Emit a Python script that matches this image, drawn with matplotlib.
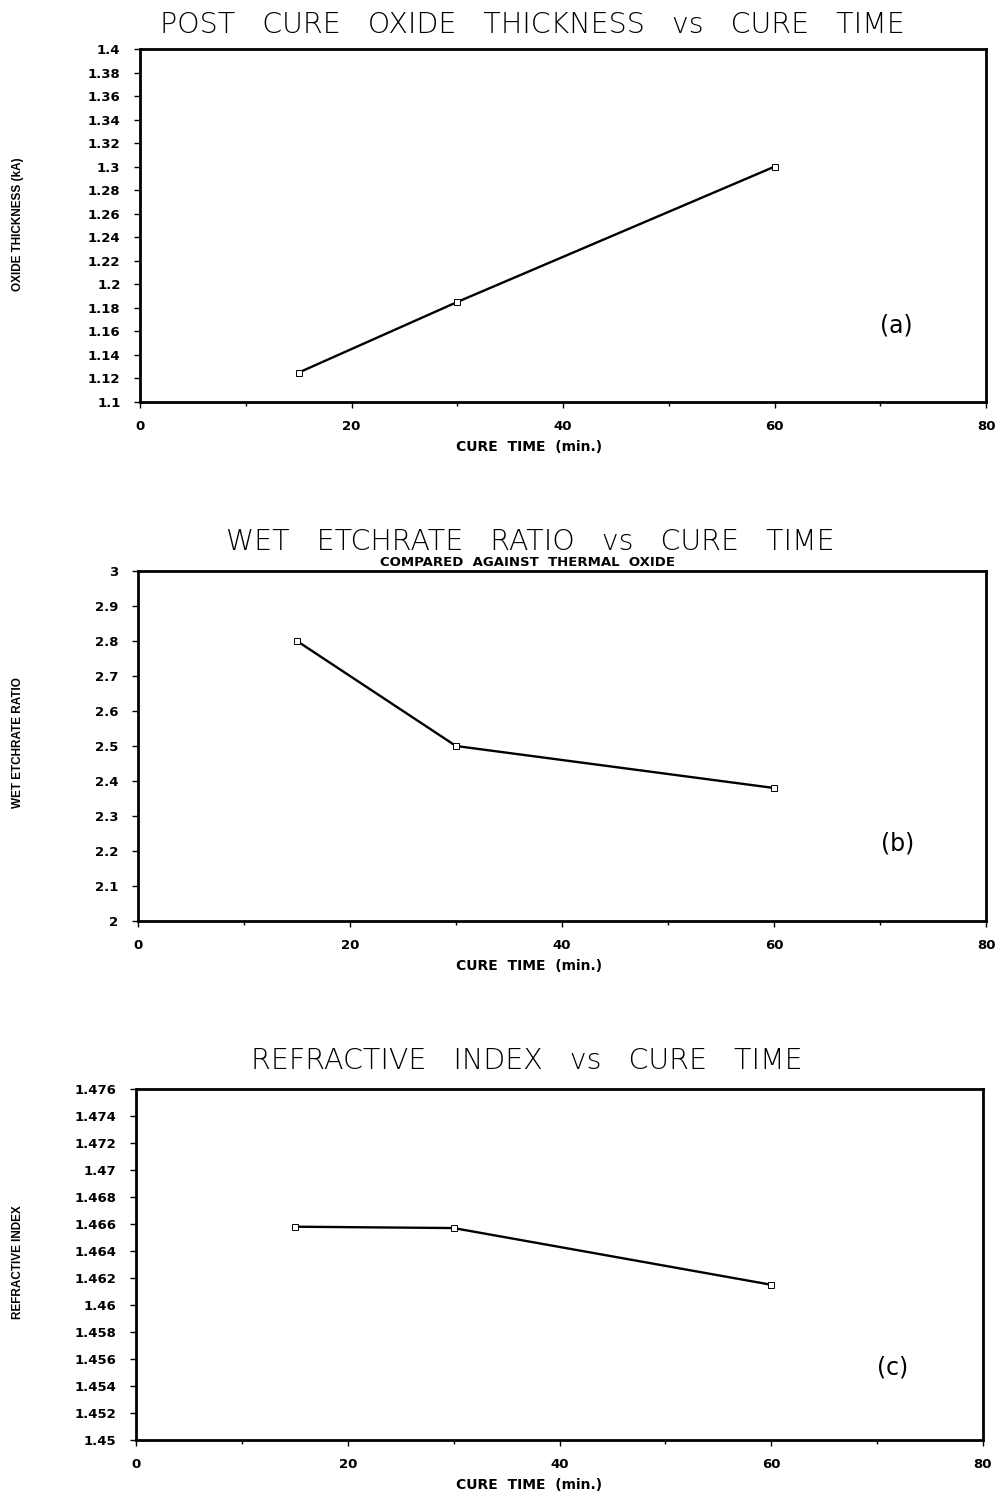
import numpy as np
import matplotlib
matplotlib.use("Agg")
import matplotlib.pyplot as plt

# data
cure_time = [15, 30, 60]
thickness = [1.125, 1.185, 1.300]
etch_ratio = [2.80, 2.50, 2.38]
ref_index = [1.4658, 1.4657, 1.4615]

x_ticks = [0, 20, 40, 60, 80]
x_minor = [10, 30, 50, 70]
a_ticks = [1.1, 1.12, 1.14, 1.16, 1.18, 1.2, 1.22, 1.24, 1.26, 1.28, 1.3,
           1.32, 1.34, 1.36, 1.38, 1.4]
a_labels = ['1.1', '1.12', '1.14', '1.16', '1.18', '1.2', '1.22', '1.24',
            '1.26', '1.28', '1.3', '1.32', '1.34', '1.36', '1.38', '1.4']
b_ticks = [2.0, 2.1, 2.2, 2.3, 2.4, 2.5, 2.6, 2.7, 2.8, 2.9, 3.0]
b_labels = ['2', '2.1', '2.2', '2.3', '2.4', '2.5', '2.6', '2.7', '2.8',
            '2.9', '3']
c_ticks = [1.45, 1.452, 1.454, 1.456, 1.458, 1.46, 1.462, 1.464, 1.466,
           1.468, 1.47, 1.472, 1.474, 1.476]
c_labels = ['1.45', '1.452', '1.454', '1.456', '1.458', '1.46', '1.462',
            '1.464', '1.466', '1.468', '1.47', '1.472', '1.474', '1.476']

W, H = 999, 1496
fig = plt.figure(figsize=(W / 100, H / 100), dpi=100)


def px(x0, y0, x1, y1):
    # pixel box -> figure fraction rect
    return [x0 / W, 1 - y1 / H, (x1 - x0) / W, (y1 - y0) / H]


def panel(rect, y, ticks, labels, ylim, ylabel, ylab_y, letter, letter_xy):
    ax = fig.add_axes(rect)
    ax.plot(cure_time, y, color='black', lw=1.7, marker='s', ms=5,
            mfc='white', mec='black', mew=0.7)
    ax.set_xlim(0, 80)
    ax.set_ylim(*ylim)
    ax.set_xticks(x_ticks)
    ax.set_xticks(x_minor, minor=True)
    ax.set_yticks(ticks)
    ax.set_yticklabels(labels)
    for s in ax.spines.values():
        s.set_linewidth(2)
    ax.tick_params(axis='both', which='major', direction='out', length=4,
                   width=1, labelsize=9.5, pad=10)
    ax.tick_params(axis='x', which='minor', direction='out', length=3,
                   width=1)
    ax.tick_params(axis='x', which='major', pad=9)
    for t in ax.get_xticklabels() + ax.get_yticklabels():
        t.set_fontweight('bold')
    fig.text(18 / W, 1 - ylab_y / H, ylabel, rotation=90, ha='center',
             va='center', fontsize=8.5, fontweight='bold',
             family='Liberation Sans')
    fig.text(letter_xy[0] / W, 1 - letter_xy[1] / H, letter, ha='center',
             va='center', fontsize=17)
    return ax


panel(px(140, 49, 986, 402), thickness, a_ticks, a_labels, (1.1, 1.4),
      'OXIDE THICKNESS (kA)', 224, '(a)', (896, 326))
panel(px(138, 571, 986, 921), etch_ratio, b_ticks, b_labels, (2.0, 3.0),
      'WET ETCHRATE RATIO', 743, '(b)', (898, 844))
panel(px(136, 1089, 983, 1440), ref_index, c_ticks, c_labels, (1.45, 1.476),
      'REFRACTIVE INDEX', 1262, '(c)', (893, 1368))

title_kw = dict(ha='center', va='center', fontsize=20.5, color='black',
                fontweight='light')
fig.text(532 / W, 1 - 25 / H,
         'POST   CURE   OXIDE   THICKNESS   vs   CURE   TIME', **title_kw)
fig.text(530 / W, 1 - 542 / H, 'WET   ETCHRATE   RATIO   vs   CURE   TIME',
         **title_kw)
fig.text(528 / W, 1 - 562 / H, 'COMPARED  AGAINST  THERMAL  OXIDE',
         ha='center', va='center', fontsize=9.5, fontweight='bold')
fig.text(527 / W, 1 - 1061 / H, 'REFRACTIVE   INDEX   vs   CURE   TIME',
         **title_kw)

for yy in [447, 966, 1485]:
    fig.text(529 / W, 1 - yy / H, 'CURE  TIME  (min.)', ha='center',
             va='center', fontsize=10, fontweight='bold')

fig.savefig('out.png', dpi=100, facecolor='white')
